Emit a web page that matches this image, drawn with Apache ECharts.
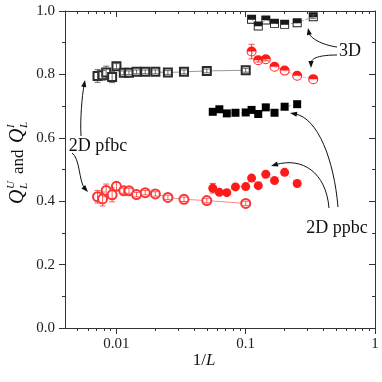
<!DOCTYPE html>
<html>
<head>
<meta charset="utf-8">
<script src="https://cdn.jsdelivr.net/npm/echarts@6/dist/echarts.min.js"></script>
<style>html,body{margin:0;padding:0;background:#fff}#chart{width:382px;height:382px}</style>
</head>
<body>
<div id="chart"></div>
<script>
// 2D pfbc (1/L, upper and lower Q)
var pfbcX = [0.00714, 0.00781, 0.00833, 0.00926, 0.0100, 0.0114, 0.0125, 0.0143, 0.0167, 0.0200, 0.0250, 0.0333, 0.0500, 0.100];
var pfbcU = [0.795, 0.797, 0.806, 0.792, 0.826, 0.805, 0.805, 0.808, 0.808, 0.808, 0.806, 0.808, 0.811, 0.813];
var pfbcUErr = [0.02, 0.015, 0.02, 0.018, 0.008, 0.006, 0.006, 0.006, 0.006, 0.006, 0.006, 0.006, 0.006, 0.006];
var pfbcI = [0.414, 0.407, 0.434, 0.420, 0.447, 0.433, 0.433, 0.421, 0.427, 0.423, 0.412, 0.406, 0.402, 0.393];
var pfbcIErr = [0.02, 0.022, 0.02, 0.022, 0.012, 0.008, 0.008, 0.007, 0.007, 0.007, 0.007, 0.007, 0.007, 0.007];

// 2D ppbc
var ppbcX = [0.0556, 0.0625, 0.0714, 0.0833, 0.100, 0.111, 0.125, 0.143, 0.167, 0.200, 0.250];
var ppbcU = [0.682, 0.690, 0.677, 0.679, 0.680, 0.688, 0.675, 0.696, 0.679, 0.698, 0.706];
var ppbcI = [0.441, 0.428, 0.427, 0.445, 0.446, 0.473, 0.449, 0.485, 0.465, 0.491, 0.456];
var ppbcIErr = [0.015, 0, 0, 0, 0, 0, 0, 0, 0, 0, 0];

// 3D
var d3X = [0.111, 0.125, 0.143, 0.167, 0.200, 0.250, 0.333];
var d3U = [0.974, 0.953, 0.972, 0.961, 0.958, 0.963, 0.982];
var d3UErr = [0, 0, 0, 0, 0, 0, 0.006];
var d3I = [0.872, 0.845, 0.848, 0.824, 0.812, 0.796, 0.785];
var d3IErr = [0.023, 0.006, 0.005, 0, 0, 0, 0];

// tick positions
var majorX = [0.01, 0.1, 1];
var minorX = [0.005, 0.006, 0.007, 0.008, 0.009, 0.02, 0.03, 0.04, 0.05, 0.06, 0.07, 0.08, 0.09,
              0.2, 0.3, 0.4, 0.5, 0.6, 0.7, 0.8, 0.9];

var serif = '"Liberation Serif", "DejaVu Serif", serif';
var axisColor = '#333';
var black = '#1a1a1a';
var red = '#ff1a1a';

var zip = function (xs, ys) {
    var res = [];
    for (var i = 0; i < xs.length; i++) res.push([xs[i], ys[i]]);
    return res;
};

// half filled symbols: ring + top half (nonzero winding)
var halfRect = 'path://M0,0L10,0L10,10L0,10Z M1,1L1,9L9,9L9,1Z M1,1L9,1L9,5.5L1,5.5Z';
var halfCircle = 'path://M0,5A5,5 0 1 1 10,5A5,5 0 1 1 0,5Z M1,5A4,4 0 1 0 9,5A4,4 0 1 0 1,5Z M1,5A4,4 0 0 1 9,5Z';

var errBars = function (xs, ys, es, color) {
    var data = [];
    for (var i = 0; i < xs.length; i++) {
        if (es[i]) data.push([xs[i], ys[i], es[i]]);
    }
    return {
        type: 'custom',
        z: 4,
        silent: true,
        renderItem: function (params, api) {
            var x = api.value(0), y = api.value(1), e = api.value(2);
            var hi = api.coord([x, y + e]);
            var lo = api.coord([x, y - e]);
            var w = 3;
            var st = { stroke: color, lineWidth: 0.8 };
            return {
                type: 'group',
                children: [
                    { type: 'line', shape: { x1: hi[0], y1: hi[1], x2: lo[0], y2: lo[1] }, style: st },
                    { type: 'line', shape: { x1: hi[0] - w, y1: hi[1], x2: hi[0] + w, y2: hi[1] }, style: st },
                    { type: 'line', shape: { x1: lo[0] - w, y1: lo[1], x2: lo[0] + w, y2: lo[1] }, style: st }
                ]
            };
        },
        data: data
    };
};

// curved arrow: [x1, y1, cx1, cy1, cx2, cy2, x2, y2]
var arrow = function (p) {
    var dx = p[6] - p[4], dy = p[7] - p[5];
    var len = Math.sqrt(dx * dx + dy * dy);
    var ux = dx / len, uy = dy / len, hl = 7, hw = 2.6;
    var bx = p[6] - ux * hl, by = p[7] - uy * hl;
    return [{
        type: 'bezierCurve',
        shape: { x1: p[0], y1: p[1], cpx1: p[2], cpy1: p[3], cpx2: p[4], cpy2: p[5], x2: bx + ux * 2, y2: by + uy * 2 },
        style: { stroke: '#111', lineWidth: 1, fill: null }
    }, {
        type: 'polygon',
        shape: { points: [[p[6], p[7]], [bx - uy * hw, by + ux * hw], [bx + uy * hw, by - ux * hw]] },
        style: { fill: '#111' }
    }];
};

var xBase = function (pos, ticks, len, inside, showLine, showLabel) {
    return {
        type: 'log', min: 0.004, max: 1, position: pos,
        axisLine: { show: showLine, lineStyle: { color: axisColor, width: 1 } },
        axisTick: { show: true, inside: inside, customValues: ticks, length: len, lineStyle: { color: axisColor, width: 1 } },
        axisLabel: showLabel ? { customValues: ticks, color: '#222', fontFamily: serif, fontSize: 15, margin: 9 } : { show: false },
        minorTick: { show: false },
        splitLine: { show: false }
    };
};

var yBase = function (pos, inside, showLabel) {
    return {
        type: 'value', min: 0, max: 1, interval: 0.2, position: pos,
        axisLine: { show: true, lineStyle: { color: axisColor, width: 1 } },
        axisTick: { show: true, inside: inside, length: 6, lineStyle: { color: axisColor, width: 1 } },
        minorTick: { show: true, splitNumber: 2, length: 3, lineStyle: { color: axisColor, width: 1 } },
        axisLabel: showLabel ? {
            color: '#222', fontFamily: serif, fontSize: 15, margin: 10,
            formatter: function (v) { return v.toFixed(1); }
        } : { show: false },
        splitLine: { show: false }
    };
};

var txt = function (s, x, y, font, align) {
    return { type: 'text', style: { text: s, x: x, y: y, font: font, fill: '#111', textAlign: align || 'left', textVerticalAlign: 'middle' } };
};

var graphics = [];
graphics.push({
    type: 'group', x: 18, y: 204, rotation: Math.PI / 2,
    children: [
        txt('Q', 0, 0, 'italic 20px ' + serif),
        txt('U', 15, -7, 'italic 11px ' + serif),
        txt('L', 15, 6, 'italic 11px ' + serif),
        txt('and', 30, 1, '17px ' + serif),
        txt('Q', 61, 0, 'italic 20px ' + serif),
        txt('I', 76, -7, 'italic 11px ' + serif),
        txt('L', 76, 6, 'italic 11px ' + serif)
    ]
});
graphics.push({
    type: 'text',
    style: {
        text: '1/{i|L}', x: 204, y: 361, textAlign: 'center', textVerticalAlign: 'middle',
        font: '17px ' + serif, fill: '#111',
        rich: { i: { fontStyle: 'italic', fontFamily: serif, fontSize: 17 } }
    }
});
graphics.push(txt('3D', 350, 51, '18px ' + serif, 'center'));
graphics.push(txt('2D pfbc', 98, 146, '18px ' + serif, 'center'));
graphics.push(txt('2D ppbc', 337, 228, '18px ' + serif, 'center'));

var arrows = [
    [337, 47, 322, 45, 310, 38, 308, 28],
    [337, 55, 320, 55, 311, 58, 311, 68],
    [81, 136, 80, 120, 82, 96, 85, 80],
    [72, 153, 80, 158, 79, 182, 88, 192],
    [329, 208, 326, 172, 302, 157, 271, 166],
    [338, 207, 334, 160, 318, 118, 290, 113]
];
arrows.forEach(function (a) { graphics = graphics.concat(arrow(a)); });

var chart = echarts.init(document.getElementById('chart'));

var option = {
    animation: false,
    backgroundColor: '#fff',
    grid: { left: 65, right: 7, top: 11, bottom: 54, containLabel: false, outerBoundsMode: 'none' },
    xAxis: [
        xBase('bottom', majorX, 6, false, true, true),
        xBase('bottom', minorX, 3, false, false, false),
        xBase('top', majorX, 6, true, true, false),
        xBase('top', minorX, 3, true, false, false)
    ],
    yAxis: [
        yBase('left', false, true),
        yBase('right', true, false)
    ],
    series: [{
        name: 'pfbc U', type: 'line', data: zip(pfbcX, pfbcU),
        symbol: 'emptyRect', symbolSize: 8,
        itemStyle: { color: '#2a2a2a', borderWidth: 1 },
        lineStyle: { color: '#9a9a9a', width: 1 }, z: 3
    }, {
        name: 'pfbc I', type: 'line', data: zip(pfbcX, pfbcI),
        symbol: 'emptyCircle', symbolSize: 9,
        itemStyle: { color: '#ff3333', borderWidth: 0.9 },
        lineStyle: { color: '#ff8a8a', width: 1 }, z: 3
    }, {
        name: 'ppbc U', type: 'line', data: zip(ppbcX, ppbcU),
        symbol: 'rect', symbolSize: 8,
        itemStyle: { color: '#000' },
        lineStyle: { color: '#888', width: 0.8, type: [2, 3] }, z: 3
    }, {
        name: 'ppbc I', type: 'line', data: zip(ppbcX, ppbcI),
        symbol: 'circle', symbolSize: 9,
        itemStyle: { color: red },
        lineStyle: { color: '#ff8a8a', width: 0.8, type: [2, 3] }, z: 3
    }, {
        name: '3D U', type: 'line', data: zip(d3X, d3U),
        symbol: halfRect, symbolSize: 9,
        itemStyle: { color: black },
        lineStyle: { color: '#888', width: 0.8, type: [3, 2] }, z: 3
    }, {
        name: '3D I', type: 'line', data: zip(d3X, d3I),
        symbol: halfCircle, symbolSize: 10,
        itemStyle: { color: red },
        lineStyle: { color: '#ff8a8a', width: 0.8, type: [3, 2] }, z: 3
    },
        errBars(pfbcX, pfbcU, pfbcUErr, '#444'),
        errBars(pfbcX, pfbcI, pfbcIErr, '#ff3333'),
        errBars(ppbcX, ppbcI, ppbcIErr, red),
        errBars(d3X, d3U, d3UErr, '#555'),
        errBars(d3X, d3I, d3IErr, red)
    ],
    graphic: graphics
};
chart.setOption(option);
</script>
</body>
</html>
